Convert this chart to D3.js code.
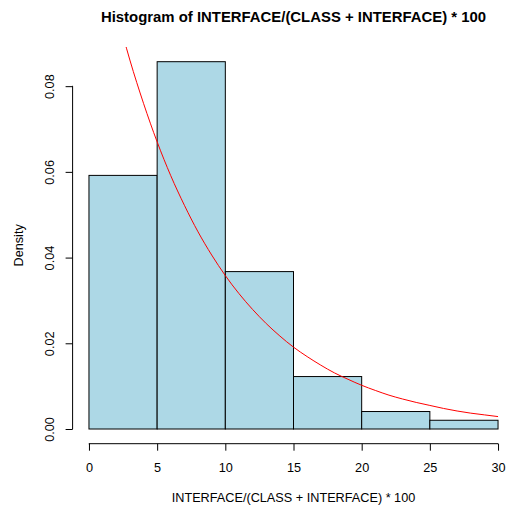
<!DOCTYPE html>
<html>
<head>
<meta charset="utf-8">
<script src="https://cdn.jsdelivr.net/npm/d3@7"></script>
<style>
  body { margin: 0; background: #fff; }
  svg { display: block; font-family: "Liberation Sans", Arial, Helvetica, sans-serif; }
</style>
</head>
<body>
<svg id="chart" width="512" height="510"></svg>
<script>
// Histogram bins (percent) and their densities
const binStarts = [0, 5, 10, 15, 20, 25];
const binWidth = 5;
const densities = [0.05918, 0.08571, 0.03673, 0.01224, 0.00408, 0.00204];

// Fitted density curve sampled along x
const curveX = [0,1,2,3,4,5,6,7,8,9,10,11,12,13,14,15,16,17,18,19,20,21,22,23,24,25,26,27,28,29,30];
const curveY = [0.1255,0.1107,0.0977,0.0861,0.0760,0.0670,0.0591,0.0522,0.0460,0.0406,0.0358,0.0316,0.0279,0.0246,0.0217,0.0191,0.0169,0.0149,0.0131,0.0116,0.0102,0.0090,0.0079,0.0070,0.0062,0.0055,0.0048,0.0042,0.0037,0.0033,0.0029];

// Axis ticks
const xTicks = [0, 5, 10, 15, 20, 25, 30];
const yTicks = [0, 0.02, 0.04, 0.06, 0.08];

const svg = d3.select("#chart");

// Plot region spans the data range padded by 4% on each side
const xDomain = [0, 30], yDomain = [0, d3.max(densities)];
const xPad = (xDomain[1] - xDomain[0]) * 0.04;
const yPad = (yDomain[1] - yDomain[0]) * 0.04;
const region = { left: 72.6, right: 514.4, top: 47, bottom: 443.7 };

const x = d3.scaleLinear()
  .domain([xDomain[0] - xPad, xDomain[1] + xPad])
  .range([region.left, region.right]);
const y = d3.scaleLinear()
  .domain([yDomain[0] - yPad, yDomain[1] + yPad])
  .range([region.bottom, region.top]);

svg.append("defs").append("clipPath").attr("id", "plotClip")
  .append("rect")
  .attr("x", region.left).attr("y", region.top)
  .attr("width", region.right - region.left)
  .attr("height", region.bottom - region.top);

// Bars
svg.append("g").selectAll("rect")
  .data(binStarts.map((s, i) => ({ s, d: densities[i] })))
  .join("rect")
  .attr("x", d => x(d.s))
  .attr("y", d => y(d.d))
  .attr("width", d => x(d.s + binWidth) - x(d.s))
  .attr("height", d => y(0) - y(d.d))
  .attr("fill", "#ADD8E6")
  .attr("stroke", "#000")
  .attr("stroke-width", 1);

// Density curve
const line = d3.line()
  .x((d, i) => x(curveX[i]))
  .y(d => y(d))
  .curve(d3.curveMonotoneX);
svg.append("path")
  .attr("clip-path", "url(#plotClip)")
  .attr("d", line(curveY))
  .attr("fill", "none")
  .attr("stroke", "#FF0000")
  .attr("stroke-width", 1);

const fontFamily = "Liberation Sans, Arial, sans-serif";

// X axis
const xAxis = d3.axisBottom(x).tickValues(xTicks).tickSize(7).tickPadding(12).tickFormat(d3.format("d"));
const gx = svg.append("g").attr("transform", `translate(0,${region.bottom})`).call(xAxis);
gx.select(".domain").attr("d", `M${x(0)},0.5V0H${x(30)}V0.5`).attr("stroke", "#000");
gx.selectAll("text").attr("font-size", 12.7).attr("fill", "#000").attr("font-family", fontFamily);
gx.selectAll(".tick line").attr("stroke", "#000");

// Y axis
const yAxis = d3.axisLeft(y).tickValues(yTicks).tickSize(7).tickFormat(d3.format(".2f"));
const gy = svg.append("g").attr("transform", `translate(${region.left},0)`).call(yAxis);
gy.select(".domain").attr("d", `M-0.5,${y(0)}H0V${y(0.08)}H-0.5`).attr("stroke", "#000");
gy.selectAll(".tick line").attr("stroke", "#000");
gy.selectAll(".tick text")
  .attr("font-size", 12.7).attr("fill", "#000").attr("font-family", fontFamily)
  .attr("x", null).attr("dy", null)
  .attr("text-anchor", "middle")
  .attr("transform", "translate(-23,0) rotate(-90)")
  .attr("dy", "0.35em");

// Titles
svg.append("text")
  .attr("x", (region.left + region.right) / 2).attr("y", 22)
  .attr("text-anchor", "middle")
  .attr("font-size", 14.9).attr("font-weight", "bold")
  .text("Histogram of INTERFACE/(CLASS + INTERFACE) * 100");

svg.append("text")
  .attr("x", (region.left + region.right) / 2).attr("y", 502)
  .attr("text-anchor", "middle")
  .attr("font-size", 12.7)
  .text("INTERFACE/(CLASS + INTERFACE) * 100");

svg.append("text")
  .attr("transform", `translate(23,${(region.top + region.bottom) / 2}) rotate(-90)`)
  .attr("text-anchor", "middle")
  .attr("font-size", 12.7)
  .text("Density");
</script>
</body>
</html>
